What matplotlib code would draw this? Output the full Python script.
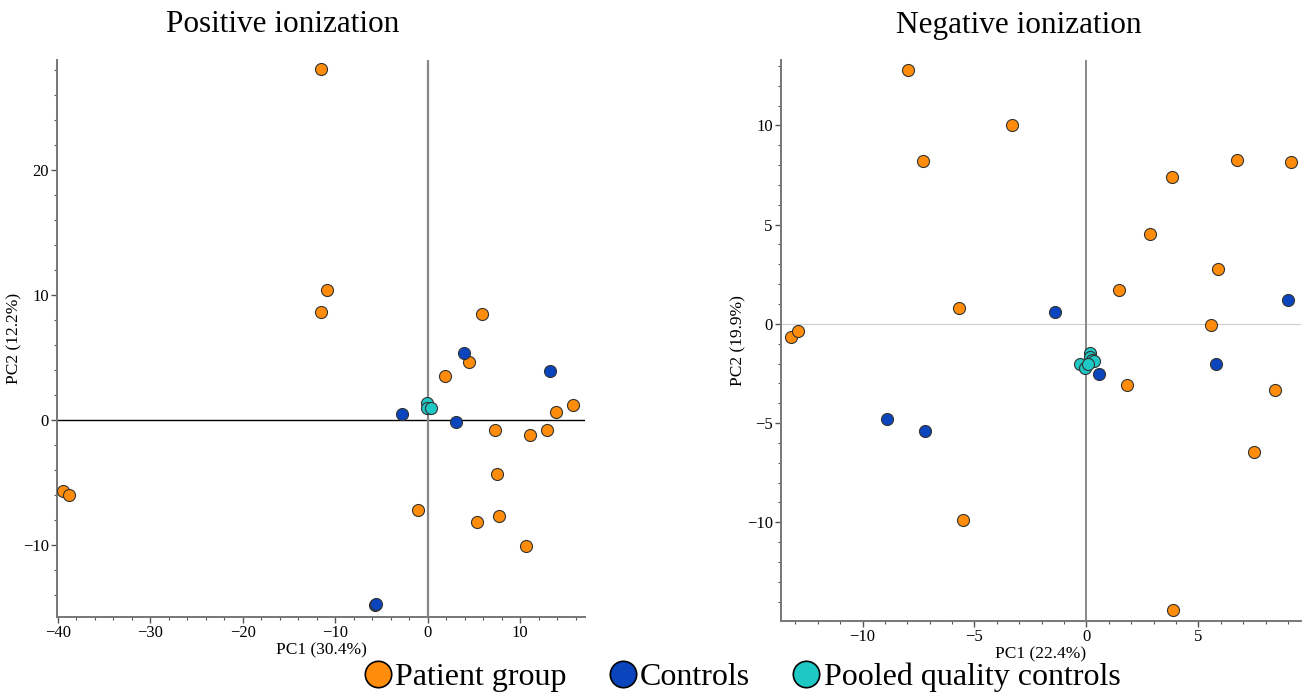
import matplotlib
matplotlib.use("Agg")
import matplotlib.pyplot as plt
from matplotlib.ticker import MultipleLocator
from matplotlib.lines import Line2D

plt.rcParams['font.family'] = ['Liberation Serif', 'DejaVu Serif']
plt.rcParams['axes.unicode_minus'] = True

# ---------------- data ----------------
pos_patient_x = [-11.5, -10.9, -11.6, 5.9, 4.5, 1.9, 15.7, 13.9, 7.3, 11.1, 12.9,
                 7.5, 7.7, 5.3, -1.1, 10.6, -39.4, -38.8]
pos_patient_y = [28.1, 10.4, 8.6, 8.5, 4.6, 3.5, 1.2, 0.6, -0.86, -1.24, -0.8,
                 -4.35, -7.7, -8.2, -7.2, -10.1, -5.75, -6.0]
pos_control_x = [3.9, 13.2, -2.8, 3.1, -5.7, -5.6]
pos_control_y = [5.3, 3.9, 0.44, -0.22, -14.8, -14.75]
pos_qc_x = [-0.1, -0.1, 0.3]
pos_qc_y = [1.3, 0.9, 0.9]

neg_patient_x = [-7.95, -3.31, -7.28, 6.72, 9.13, 3.83, 2.82, 5.86, 1.46, -5.67,
                 5.58, -13.2, -12.86, 1.82, 8.41, 7.5, -5.53, 3.85]
neg_patient_y = [12.8, 10.0, 8.2, 8.24, 8.16, 7.38, 4.52, 2.76, 1.72, 0.78,
                 -0.04, -0.68, -0.34, -3.08, -3.32, -6.48, -9.9, -14.44]
neg_control_x = [-1.42, 9.01, 5.79, 0.54, -8.91, -7.21]
neg_control_y = [0.62, 1.18, -2.0, -2.52, -4.78, -5.38]
neg_qc_x = [0.16, 0.17, 0.26, 0.33, -0.28, -0.07, 0.05]
neg_qc_y = [-1.48, -1.68, -1.8, -1.88, -2.02, -2.24, -2.04]

labels = ["Patient group", "Controls", "Pooled quality controls"]
colors = ["#FF8C0A", "#0A45BE", "#1EC8C4"]

# ---------------- figure ----------------
fig = plt.figure(figsize=(13.06, 6.97), dpi=100)
ax1 = fig.add_axes([57/1306, 1-617/697, (585-57)/1306, (617-60)/697])
ax2 = fig.add_axes([781/1306, 1-621/697, (1301-781)/1306, (621-60)/697])

def style(ax):
    for s in ["top", "right"]:
        ax.spines[s].set_visible(False)
    for s in ["left", "bottom"]:
        ax.spines[s].set_color("#777777")
        ax.spines[s].set_linewidth(1.4)
    ax.tick_params(which="both", direction="out", colors="#555555", labelcolor="black",
                   labelsize=12, pad=2)
    ax.tick_params(which="major", length=4, width=1.0)
    ax.tick_params(which="minor", length=2.5, width=0.8)

ms = 75
ec = "#333333"
# left
ax1.axhline(0, color="black", lw=1.0, zorder=1)
ax1.axvline(0, color="#888888", lw=1.6, zorder=1)
ax1.scatter(pos_patient_x, pos_patient_y, s=ms, c=colors[0], edgecolors=ec, linewidths=0.8, zorder=3)
ax1.scatter(pos_control_x, pos_control_y, s=ms, c=colors[1], edgecolors=ec, linewidths=0.8, zorder=3)
ax1.scatter(pos_qc_x, pos_qc_y, s=ms, c=colors[2], edgecolors=ec, linewidths=0.8, zorder=3)
ax1.set_xlim(-40.1, 17.0)
ax1.set_ylim(-15.8, 28.8)
ax1.xaxis.set_major_locator(MultipleLocator(10))
ax1.yaxis.set_major_locator(MultipleLocator(10))
ax1.xaxis.set_minor_locator(MultipleLocator(2))
ax1.yaxis.set_minor_locator(MultipleLocator(2))
style(ax1)
ax1.set_xlabel("PC1 (30.4%)", fontsize=12.5, labelpad=0.5)
ax1.set_ylabel("PC2 (12.2%)", fontsize=12.5, labelpad=0)

# right
ax2.axhline(0, color="#cccccc", lw=0.8, zorder=1)
ax2.axvline(0, color="#888888", lw=1.4, zorder=1)
ax2.scatter(neg_patient_x, neg_patient_y, s=ms, c=colors[0], edgecolors=ec, linewidths=0.8, zorder=3)
ax2.scatter(neg_control_x, neg_control_y, s=ms, c=colors[1], edgecolors=ec, linewidths=0.8, zorder=3)
ax2.scatter(neg_qc_x, neg_qc_y, s=ms, c=colors[2], edgecolors=ec, linewidths=0.8, zorder=3)
ax2.set_xlim(-13.64, 9.58)
ax2.set_ylim(-14.98, 13.3)
ax2.xaxis.set_major_locator(MultipleLocator(5))
ax2.yaxis.set_major_locator(MultipleLocator(5))
ax2.xaxis.set_minor_locator(MultipleLocator(1))
ax2.yaxis.set_minor_locator(MultipleLocator(1))
style(ax2)
ax2.set_xlabel("PC1 (22.4%)", fontsize=12.5, labelpad=0.5)
ax2.set_ylabel("PC2 (19.9%)", fontsize=12.5, labelpad=0)

fig.text(283/1306, 1-25/697, "Positive ionization", ha="center", va="center", fontsize=22.5)
fig.text(1019/1306, 1-25/697, "Negative ionization", ha="center", va="center", fontsize=22.5)

handles = [Line2D([], [], marker="o", ls="", markersize=19, markerfacecolor=c,
                  markeredgecolor="black", markeredgewidth=1.2) for c in colors]
fig.legend(handles, labels, loc="center", bbox_to_anchor=(741/1306, 1-677/697),
           ncol=3, frameon=False, fontsize=23, handletextpad=0.05, columnspacing=1.25,
           handlelength=1.0, borderpad=0)

fig.savefig("out.png", dpi=100)
